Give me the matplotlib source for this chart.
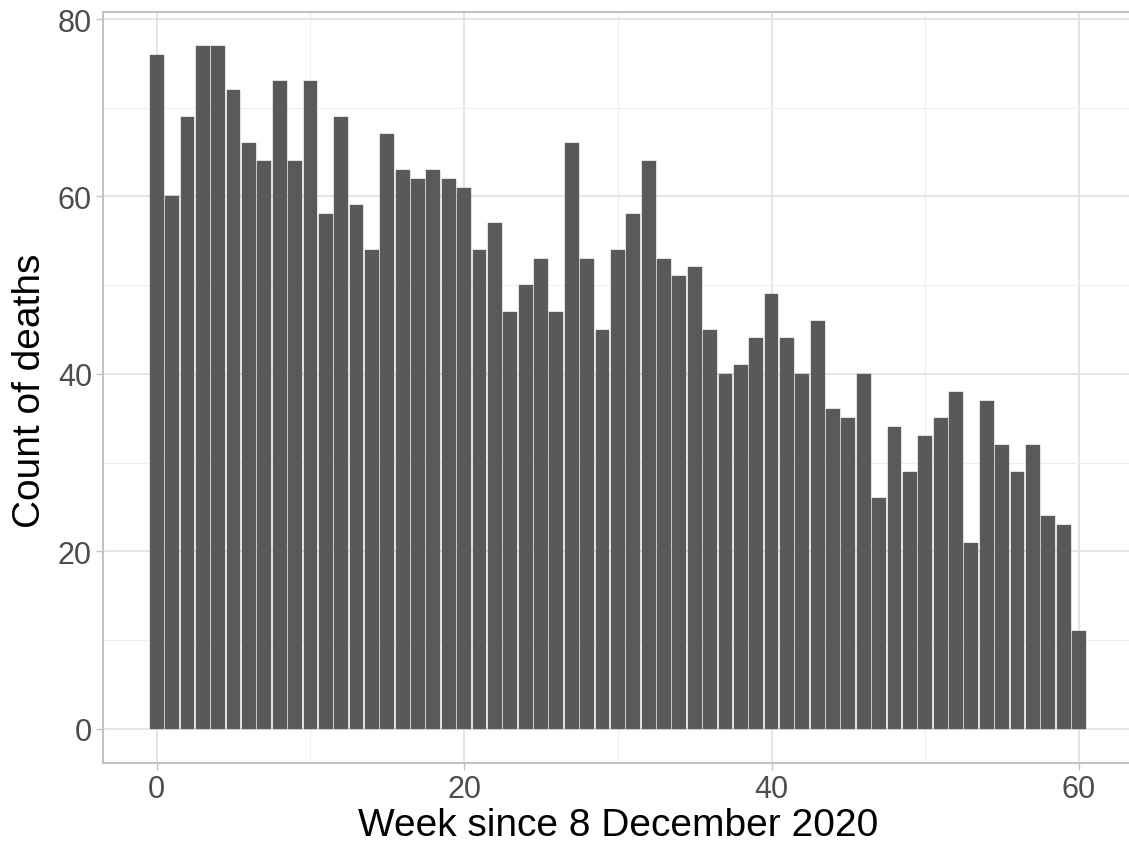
import matplotlib
matplotlib.use("Agg")
import matplotlib.pyplot as plt
from matplotlib.ticker import MultipleLocator

weeks = list(range(61))
deaths = [76, 60, 69, 77, 77, 72, 66, 64, 73, 64,
          73, 58, 69, 59, 54, 67, 63, 62, 63, 62,
          61, 54, 57, 47, 50, 53, 47, 66, 53, 45,
          54, 58, 64, 53, 51, 52, 45, 40, 41, 44,
          49, 44, 40, 46, 36, 35, 40, 26, 34, 29,
          33, 35, 38, 21, 37, 32, 29, 32, 24, 23,
          11]
x_ticks = [0, 20, 40, 60]
y_ticks = [0, 20, 40, 60, 80]
x_label = "Week since 8 December 2020"
y_label = "Count of deaths"

plt.rcParams['font.family'] = ['Liberation Sans', 'DejaVu Sans']

W, H = 1129, 845
fig = plt.figure(figsize=(W / 100, H / 100), dpi=100)
left, right, bottom, top = 103.0, 1132.7, 764.0, 12.5
ax = fig.add_axes([left / W, (H - bottom) / H, (right - left) / W, (bottom - top) / H])

ax.bar(weeks, deaths, width=0.9, color="#595959", edgecolor="#6a6a6a", linewidth=0.3, zorder=3)

bw = 0.9
xmin, xmax = -bw / 2, max(weeks) + bw / 2
xr = xmax - xmin
ax.set_xlim(xmin - 0.05 * xr, xmax + 0.05 * xr)
ymax = max(deaths)
ax.set_ylim(-0.05 * ymax, ymax * 1.05)

ax.xaxis.set_major_locator(MultipleLocator(20))
ax.xaxis.set_minor_locator(MultipleLocator(10))
ax.yaxis.set_major_locator(MultipleLocator(20))
ax.yaxis.set_minor_locator(MultipleLocator(10))
ax.set_xticks(x_ticks)
ax.set_yticks(y_ticks)

ax.grid(which="major", color="#e0e0e0", linewidth=1.2, zorder=0)
ax.grid(which="minor", color="#eeeeee", linewidth=0.8, zorder=0)
ax.set_axisbelow(True)

for s in ax.spines.values():
    s.set_color("#c2c2c2")
    s.set_linewidth(1.5)

ax.tick_params(which="major", length=5, width=1.0, color="#c2c2c2",
               labelsize=22, labelcolor="#4d4d4d", pad=3)
ax.tick_params(which="minor", length=0)

ax.set_xlabel("")
ax.set_ylabel("")
fig.text((left + right) / 2 / W, (H - 836) / H, x_label, fontsize=28,
         color="black", ha="center", va="baseline")
fig.text(30 / W, (H - 390.5) / H, y_label, fontsize=28, color="black",
         ha="center", va="center", rotation=90)

fig.savefig("out.png", dpi=100)
